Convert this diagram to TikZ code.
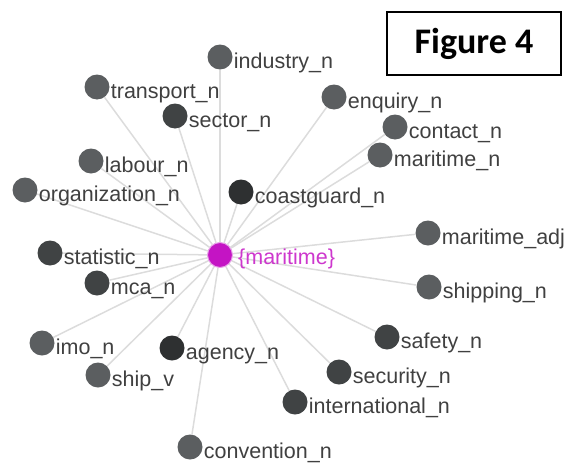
\documentclass[tikz,border=0pt]{standalone}
\usepackage{fontspec}
\setmainfont{Liberation Sans}
\newfontfamily\figfont{Carlito}
\usetikzlibrary{shapes,positioning,backgrounds}
\definecolor{midgray}{HTML}{5B5E60}
\definecolor{darkgray}{HTML}{404344}
\definecolor{darkergray}{HTML}{2E3031}
\definecolor{edgegray}{HTML}{DCDCDC}
\definecolor{labelgray}{HTML}{404040}
\definecolor{hubpink}{HTML}{C414C4}
\def\Hub{\{maritime\}}

\begin{document}
\begin{tikzpicture}[% coordinates are pixels of the original, y runs down
			x=1pt,y=-1pt,
			word/.style={
				circle,inner sep=0pt,
				minimum size=25pt,	% dot of one word
				fill=#1
			},
			lbl/.style={
				anchor=base west,inner sep=0pt,
				text=labelgray,font=\fontsize{21.5}{24}\selectfont
			},
			every edge/.style={draw=edgegray,line width=1.5pt}
		]
		\useasboundingbox (0,0) rectangle (575,463);
		% hub
		\node[word=hubpink,draw=hubpink!40,line width=1pt](hub) at (220,255){};
		\node[lbl,text=hubpink!85](hubL) at ([xshift=5pt,yshift=-9pt]hub.east){\Hub};
		% words
		\node[word=midgray](industry) at (220,57){};
		\node[word=midgray](transport) at (97,87){};
		\node[word=darkgray](sector) at (175,116){};
		\node[word=midgray](labour) at (91,161){};
		\node[word=midgray](organization) at (25,190){};
		\node[word=darkergray](coastguard) at (241,192){};
		\node[word=midgray](enquiry) at (334,97){};
		\node[word=midgray](contact) at (395,127){};
		\node[word=midgray](maritimeN) at (380,155){};
		\node[word=midgray](maritimeA) at (428,233){};
		\node[word=midgray](shipping) at (429,287){};
		\node[word=darkgray](safety) at (387,337){};
		\node[word=darkgray](security) at (339,372){};
		\node[word=darkgray](international) at (295,402){};
		\node[word=midgray](convention) at (190,447){};
		\node[word=darkergray](agency) at (172,348){};
		\node[word=midgray](shipV) at (98,375){};
		\node[word=midgray](imo) at (42,343){};
		\node[word=darkgray](mca) at (97,283){};
		\node[word=darkgray](statistic) at (50,253){};
		% labels
		\node[lbl](industryL) at ([xshift=1pt,yshift=-11pt]industry.east){industry\_n};
		\node[lbl](transportL) at ([xshift=1pt,yshift=-11pt]transport.east){transport\_n};
		\node[lbl](sectorL) at ([xshift=1pt,yshift=-11pt]sector.east){sector\_n};
		\node[lbl](labourL) at ([xshift=1pt,yshift=-11pt]labour.east){labour\_n};
		\node[lbl](organizationL) at ([xshift=1pt,yshift=-11pt]organization.east){organization\_n};
		\node[lbl](coastguardL) at ([xshift=1pt,yshift=-11pt]coastguard.east){coastguard\_n};
		\node[lbl](enquiryL) at ([xshift=1pt,yshift=-11pt]enquiry.east){enquiry\_n};
		\node[lbl](contactL) at ([xshift=1pt,yshift=-11pt]contact.east){contact\_n};
		\node[lbl](maritimeNL) at ([xshift=1pt,yshift=-11pt]maritimeN.east){maritime\_n};
		\node[lbl](maritimeAL) at ([xshift=1pt,yshift=-11pt]maritimeA.east){maritime\_adj};
		\node[lbl](shippingL) at ([xshift=1pt,yshift=-11pt]shipping.east){shipping\_n};
		\node[lbl](safetyL) at ([xshift=1pt,yshift=-11pt]safety.east){safety\_n};
		\node[lbl](securityL) at ([xshift=1pt,yshift=-11pt]security.east){security\_n};
		\node[lbl](internationalL) at ([xshift=1pt,yshift=-11pt]international.east){international\_n};
		\node[lbl](conventionL) at ([xshift=1pt,yshift=-11pt]convention.east){convention\_n};
		\node[lbl](agencyL) at ([xshift=1pt,yshift=-11pt]agency.east){agency\_n};
		\node[lbl](shipVL) at ([xshift=1pt,yshift=-11pt]shipV.east){ship\_v};
		\node[lbl](imoL) at ([xshift=1pt,yshift=-11pt]imo.east){imo\_n};
		\node[lbl](mcaL) at ([xshift=1pt,yshift=-11pt]mca.east){mca\_n};
		\node[lbl](statisticL) at ([xshift=1pt,yshift=-11pt]statistic.east){statistic\_n};
		% title box
		\node[rectangle,draw=black,line width=1.5pt,minimum width=174pt,minimum height=63pt,
			font=\figfont\bfseries\fontsize{36}{40}\selectfont](fig) at (474,43.5){Figure 4};
		\begin{pgfonlayer}{background}
		\path
		(hub)edge (industry)
		(hub)edge (transport)
		(hub)edge (sector)
		(hub)edge (labour)
		(hub)edge (organization)
		(hub)edge (coastguard)
		(hub)edge (enquiry)
		(hub)edge (contact)
		(hub)edge (maritimeN)
		(hub)edge (maritimeA)
		(hub)edge (shipping)
		(hub)edge (safety)
		(hub)edge (security)
		(hub)edge (international)
		(hub)edge (convention)
		(hub)edge (agency)
		(hub)edge (shipV)
		(hub)edge (imo)
		(hub)edge (mca)
		(hub)edge (statistic)
		;
		\end{pgfonlayer}
	\end{tikzpicture}
\end{document}
